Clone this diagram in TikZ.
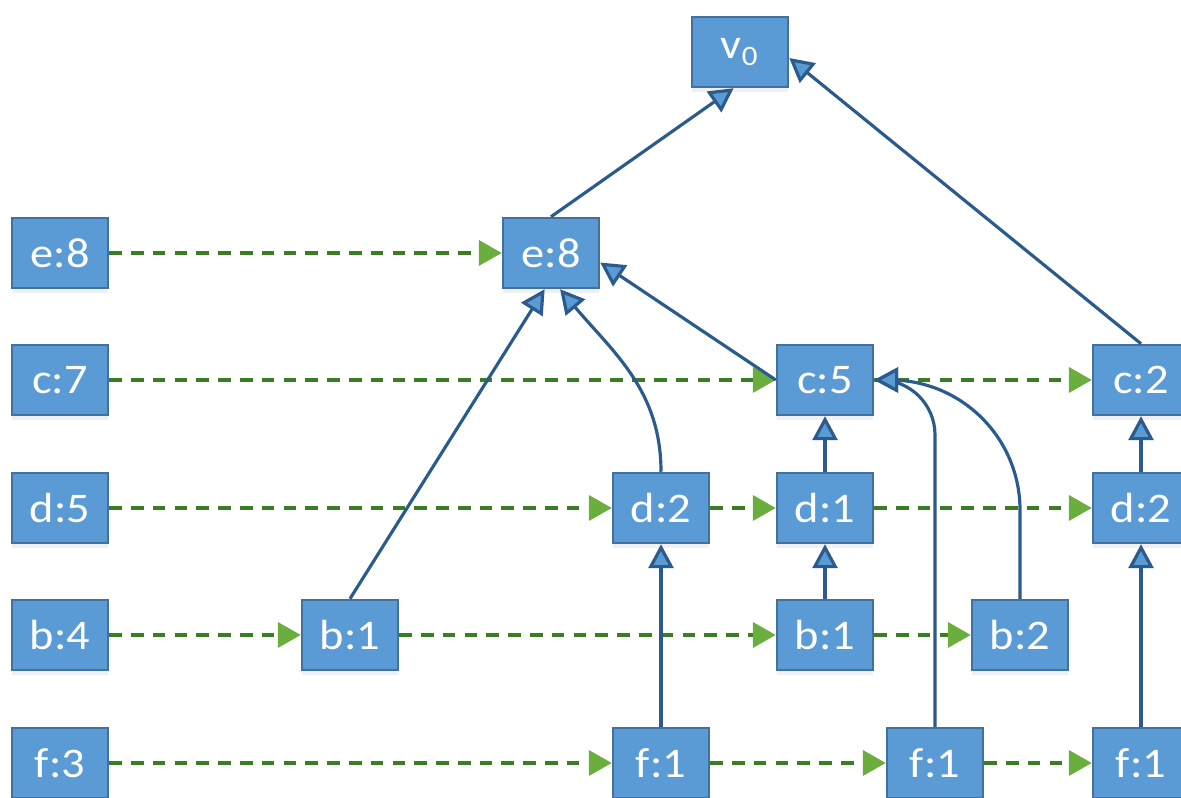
\documentclass[tikz,border=0pt]{standalone}
\usepackage{fontspec}
\setmainfont{Carlito}[FakeStretch=1.1]
\usetikzlibrary{arrows.meta,shadows}

\begin{document}
\begin{tikzpicture}[x=1cm,y=1cm]
  % Colors
    \definecolor{boxfill}{HTML}{5B9BD5}
    \definecolor{boxedge}{HTML}{41719C}
    \definecolor{linkblue}{HTML}{2B5B8C}
    \definecolor{nextgreen}{HTML}{3B7D23}
    \definecolor{headgreen}{HTML}{6AAF3D}

  % Styles
    \tikzstyle{box}=[draw=boxedge,fill=boxfill,line width=0.7pt,
      minimum width=0.96cm,minimum height=0.70cm,inner sep=0pt,
      text=white,font=\fontsize{12}{14}\selectfont,
      drop shadow={shadow xshift=0pt,shadow yshift=-1.5pt,opacity=0.12}]
    \tikzstyle{link}=[draw=linkblue,line width=0.9pt,
      -{Triangle[length=0.24cm,width=0.25cm,fill=boxfill]}]
    \tikzstyle{next}=[draw=nextgreen,line width=1.1pt,
      dash pattern=on 3.6pt off 2.6pt,
      -{Triangle[length=0.23cm,width=0.25cm,color=headgreen,fill=headgreen]}]

  % The graphic
    \useasboundingbox (0,0) rectangle (11.81,7.98);
    \clip (0,0) rectangle (11.81,7.98);

    % header column
    \foreach \n/\t/\y in {e8l/e:8/5.45, c7/c:7/4.18, d5/d:5/2.90, b4/b:4/1.63, f3/f:3/0.35}
      \node[box] (\n) at (0.60,\y) {\t};

    % tree nodes
    \node[box] (v0) at (7.40,7.46) {v\textsubscript{0}};
    \node[box] (e8) at (5.51,5.45) {e:8};
    \node[box] (c5) at (8.25,4.18) {c:5};
    \node[box] (c2) at (11.41,4.18) {c:2};
    \node[box] (d2) at (6.61,2.90) {d:2};
    \node[box] (d1) at (8.25,2.90) {d:1};
    \node[box] (d2r) at (11.41,2.90) {d:2};
    \node[box] (b1) at (3.50,1.63) {b:1};
    \node[box] (b1m) at (8.25,1.63) {b:1};
    \node[box] (b2) at (10.20,1.63) {b:2};
    \node[box] (f1) at (6.61,0.35) {f:1};
    \node[box] (f1m) at (9.35,0.35) {f:1};
    \node[box] (f1r) at (11.41,0.35) {f:1};

    % node links along each row
    \foreach \a/\b in {e8l/e8, c7/c5, c5/c2, d5/d2, d2/d1, d1/d2r,
                       b4/b1, b1/b1m, b1m/b2, f3/f1, f1/f1m, f1m/f1r}
      \draw[next] (\a.east) -- (\b.west);

    % parent links
    \draw[link] (e8.north) -- (v0.-100);
    \draw[link] (c2.north) -- (v0.-7);
    \draw[link] (c5.west) -- (e8.-11);
    \draw[link] (b1.north) -- (e8.-100);
    \draw[link] (d2.north) to[out=90,in=-50] (e8.-76);
    \foreach \a/\b in {d1/c5, b1m/d1, f1/d2, d2r/c2, f1r/d2r}
      \draw[link] (\a.north) -- (\b.south);
    \draw[link,rounded corners=0.55cm] (f1m.north) |- (c5.east);
    \draw[link,rounded corners=1.3cm] (b2.north) |- (c5.east);
\end{tikzpicture}
\end{document}
